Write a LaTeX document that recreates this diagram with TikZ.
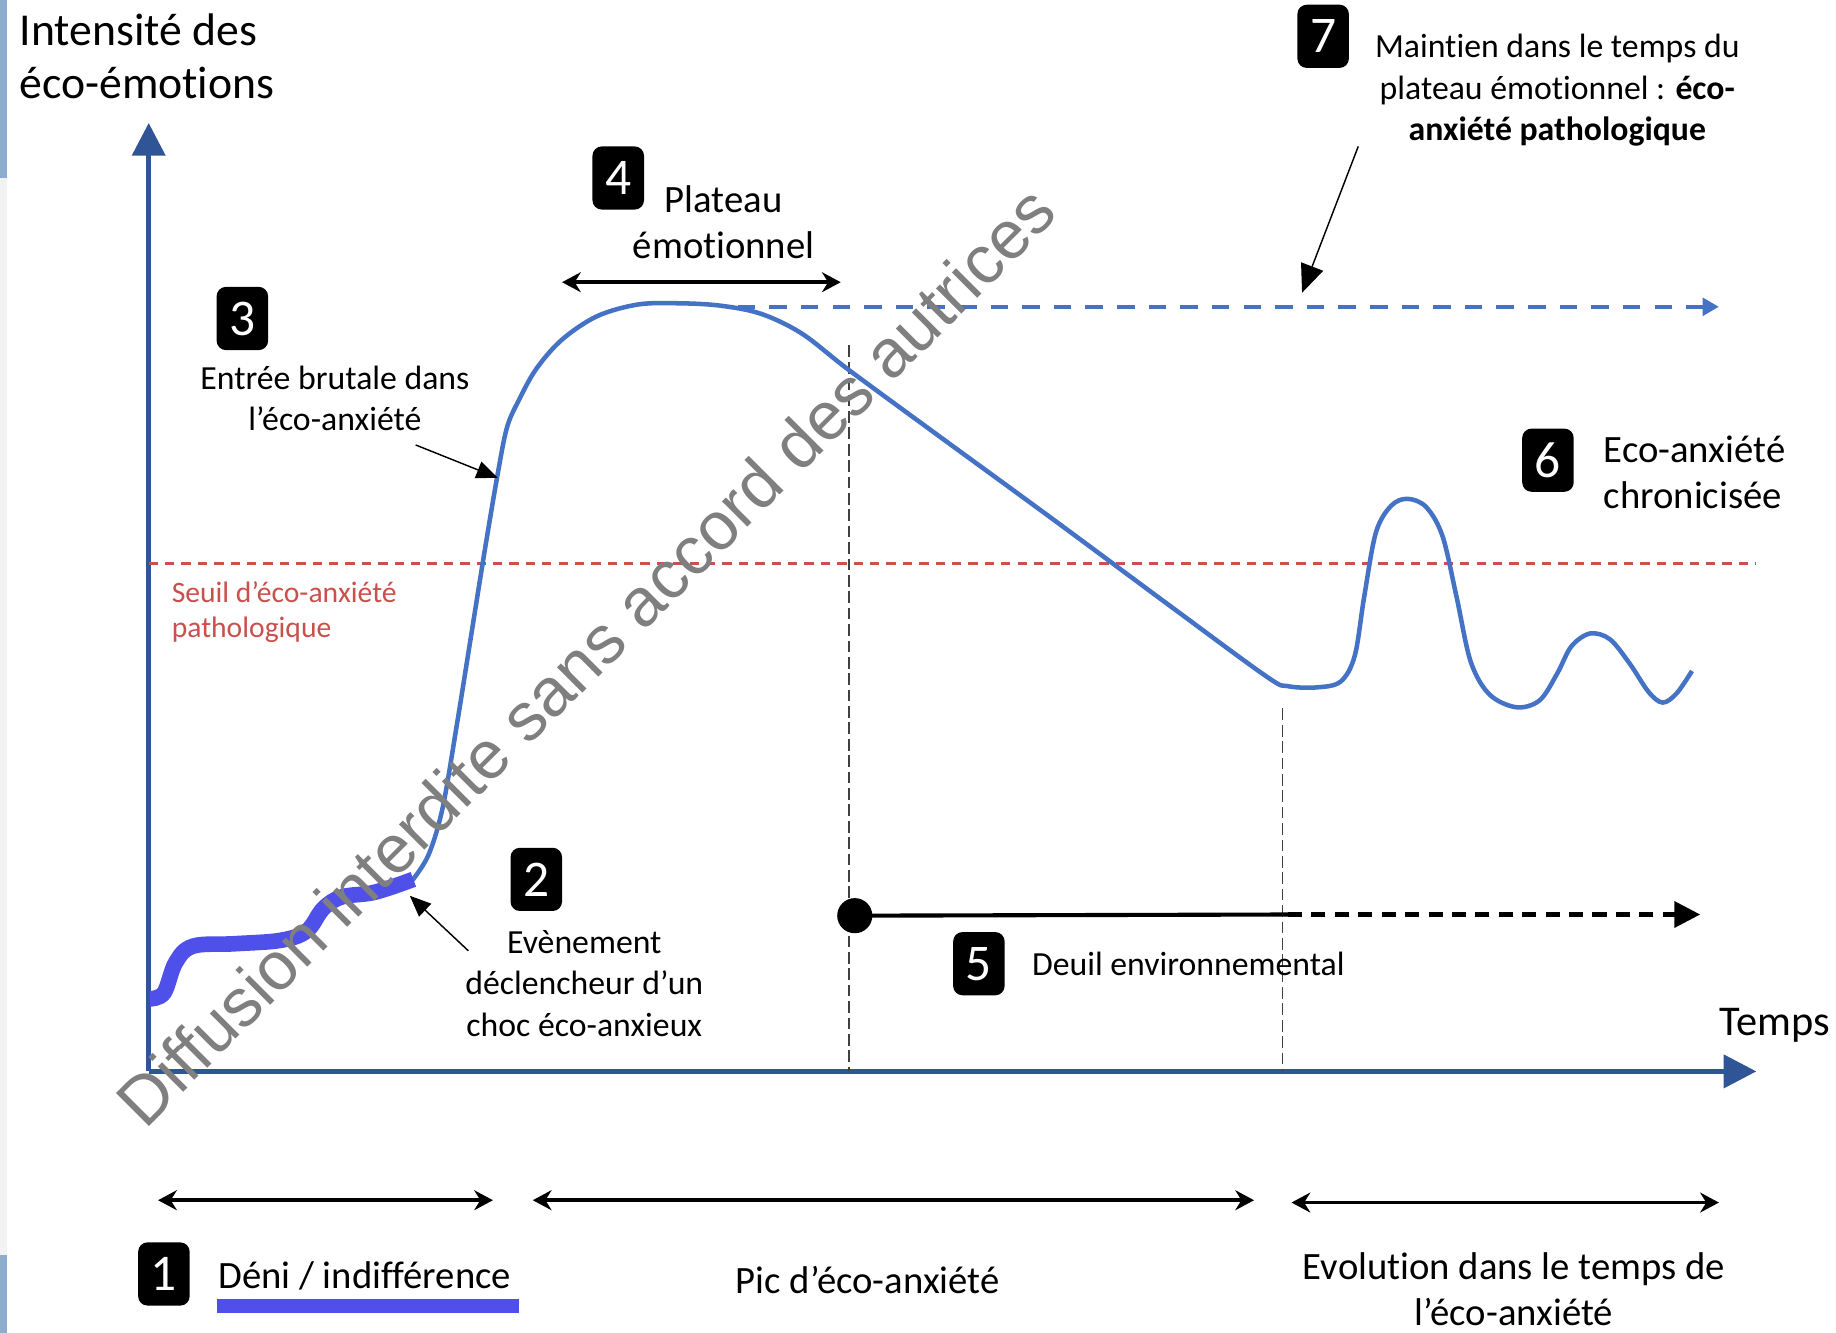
\documentclass[tikz,border=0pt]{standalone}
\usepackage{fontspec}
\setmainfont{Carlito}[Ligatures=NoCommon]
\newfontfamily\wmfont{Liberation Sans}
\usepackage{tikz}
\usetikzlibrary{arrows.meta, positioning}
\definecolor{AxisBlue}{HTML}{2F5597}
\definecolor{CurveBlue}{HTML}{4472C4}
\definecolor{MarkBlue}{HTML}{4F4FEA}
\definecolor{SeuilRed}{HTML}{C9504B}
\definecolor{WaterGray}{HTML}{7F7F7F}
\definecolor{EdgeBlue}{HTML}{8EACCF}
\definecolor{EdgeGray}{HTML}{F2F2F2}

\begin{document}
\begin{tikzpicture}[
  x=0.1mm, y=-0.1mm,
  numbox/.style={rectangle, rounded corners=0.8mm, fill=black, text=white,
                 minimum width=4.4mm, minimum height=5.4mm, inner sep=0pt,
                 font=\fontsize{12.5}{13}\selectfont},
  lbl/.style={inner sep=0pt, align=center, font=\fontsize{9.4}{11.2}\selectfont},
  smalllbl/.style={inner sep=0pt, align=center, font=\fontsize{8.2}{10}\selectfont},
  axis/.style={AxisBlue, line width=1.2pt, -{Triangle[length=2.8mm, width=2.8mm]}},
  span/.style={line width=0.9pt,
               {Stealth[length=1.6mm, width=1.7mm]}-{Stealth[length=1.6mm, width=1.7mm]}},
  pointer/.style={line width=0.35pt, -{Triangle[length=1.8mm, width=1.5mm]}},
  guide/.style={line width=0.3pt, black!75, dash pattern=on 1mm off 0.4mm},
]
\useasboundingbox (0,0) rectangle (1568,1138);

% bords de la capture
\fill[EdgeGray] (0,150) rectangle (6,1075);
\fill[EdgeBlue] (0,0) rectangle (6,152);
\fill[EdgeBlue] (0,1072) rectangle (6,1138);

% axes
\coordinate (origin) at (127,915);
\coordinate (ytip) at (127,105);
\coordinate (xtip) at (1500,915);
\draw[axis] (origin) -- (ytip);
\draw[axis] (origin) -- (xtip);

\node[inner sep=0pt, anchor=west, align=left,
      font=\fontsize{11.1}{13}\selectfont] (ylabel) at (16,48)
  {Intensité des\\éco-émotions};
\node[inner sep=0pt, font=\fontsize{10.3}{12}\selectfont] (temps) at (1516,876) {Temps};

% seuil
\coordinate (seuilL) at (127,481);
\coordinate (seuilR) at (1500,481);
\draw[SeuilRed, line width=0.65pt, dash pattern=on 0.8mm off 0.6mm] (seuilL) -- (seuilR);
\node[inner sep=0pt, anchor=west, align=left, text=SeuilRed,
      font=\fontsize{7.2}{8.5}\selectfont] (seuil) at (146,523)
  {Seuil d’éco-anxiété\\pathologique};

% reperes verticaux
\draw[guide] (725,295) -- (725,915);
\draw[guide] (1095,605) -- (1095,915);

% courbe
\draw[CurveBlue, line width=1.1pt] plot[smooth, tension=0.55] coordinates {
  (352,752) (366,730) (378,690) (390,620) (402,545) (414,470) (425,405)
  (433,365) (443,342) (458,315) (480,290) (510,270) (545,260) (580,259)
  (615,261) (650,268) (685,285) (725,316) (800,371) (900,444) (1000,518)
  (1082,578) (1100,586) (1125,587) (1145,582) (1157,560) (1165,510)
  (1175,455) (1188,432) (1202,426) (1218,433) (1232,458) (1244,510)
  (1256,565) (1272,593) (1295,604) (1315,598) (1330,575) (1342,552)
  (1358,541) (1375,546) (1392,567) (1408,591) (1420,600) (1432,592) (1445,573)};
\draw[MarkBlue, line width=3.8pt] plot[smooth, tension=0.6] coordinates {
  (128,853) (140,848) (150,822) (165,808) (200,806) (240,803) (262,795)
  (276,776) (292,766) (320,762) (353,751)};

% plateau prolonge
\coordinate (plateauL) at (630,262);
\coordinate (plateauR) at (1468,262);
\draw[CurveBlue, line width=1pt, dash pattern=on 1.5mm off 1.2mm,
      -{Triangle[length=1.4mm, width=1.5mm]}] (plateauL) -- (plateauR);

% 1
\node[numbox] (n1) at (140,1088) {1};
\node[lbl, anchor=west, right=2.3mm of n1, yshift=-0.2mm] (deni) {Déni / indifférence};
\fill[MarkBlue] (185,1109) rectangle (443,1121);

% 2
\node[numbox] (n2) at (458,751) {2};
\node[smalllbl] (evt) at (499,840) {Evènement\\déclencheur d’un\\choc éco-anxieux};
\coordinate (p2from) at (400,812);
\coordinate (p2to) at (350,765);
\draw[pointer] (p2from) -- (p2to);

% 3
\node[numbox] (n3) at (207,272) {3};
\node[smalllbl] (entree) at (286,340) {Entrée brutale dans\\l’éco-anxiété};
\coordinate (p3from) at (355,380);
\coordinate (p3to) at (425,408);
\draw[pointer] (p3from) -- (p3to);

% 4
\node[numbox] (n4) at (528,152) {4};
\node[lbl] (plateau) at (618,190) {Plateau\\émotionnel};
\coordinate (pl4L) at (480,241);
\coordinate (pl4R) at (718,241);
\draw[span] (pl4L) -- (pl4R);

% 5
\node[circle, fill=black, minimum size=3mm, inner sep=0pt] (deuil0) at (730,782) {};
\coordinate (deuil1) at (1100,781);
\coordinate (deuil2) at (1452,781);
\draw[line width=1pt] (deuil0.center) -- (deuil1);
\draw[line width=1pt, dash pattern=on 1.2mm off 0.8mm,
      -{Triangle[length=2.2mm, width=2.2mm]}] (deuil1) -- (deuil2);
\node[numbox] (n5) at (836,823) {5};
\node[smalllbl, anchor=west, right=2.2mm of n5] (deuil) {Deuil environnemental};

% 6
\node[numbox] (n6) at (1322,393) {6};
\node[lbl, anchor=west, align=left] (chron) at (1369,403) {Eco-anxiété\\chronicisée};

% 7
\node[numbox] (n7) at (1130,31) {7};
\node[smalllbl] (maintien) at (1330,77)
  {Maintien dans le temps du\\plateau émotionnel : \textbf{éco-}\\\textbf{anxiété pathologique}};
\coordinate (p7from) at (1160,125);
\coordinate (p7to) at (1112,250);
\draw[pointer, -{Triangle[length=2.4mm, width=2mm]}] (p7from) -- (p7to);

% periodes
\coordinate (ph1L) at (135,1025);
\coordinate (ph1R) at (421,1025);
\coordinate (ph2L) at (455,1025);
\coordinate (ph2R) at (1071,1025);
\coordinate (ph3L) at (1103,1027);
\coordinate (ph3R) at (1468,1027);
\draw[span] (ph1L) -- (ph1R);
\draw[span] (ph2L) -- (ph2R);
\draw[span] (ph3L) -- (ph3R);
\node[lbl] (pic) at (741,1093) {Pic d’éco-anxiété};
\node[lbl] (evol) at (1293,1101) {Evolution dans le temps de\\l’éco-anxiété};

% filigrane
\node[inner sep=0pt, rotate=45, text=WaterGray,
      font=\wmfont\fontsize{16.5}{18}\selectfont] (watermark) at (500,560)
  {Diffusion interdite sans accord des autrices};
\end{tikzpicture}
\end{document}
